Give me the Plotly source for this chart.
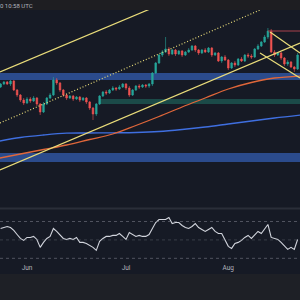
import pandas as pd
import plotly.graph_objects as go

# ---------------- data (price in thousands) ----------------
start_date = "2024-05-24"
n_days = 91
opens = [64.3, 64.6, 64.8, 64.6, 64.9, 64.0, 63.5, 63.0, 62.7, 63.1, 62.9, 63.2, 62.6, 61.8, 62.6, 63.2,
         63.5, 65.0, 64.7, 64.0, 63.5, 63.2, 63.4, 63.1, 63.3, 63.0, 63.2, 62.8, 62.2, 61.6, 62.6, 63.4,
         63.8, 63.7, 64.0, 64.2, 64.1, 64.3, 64.6, 64.2, 63.5, 64.0, 64.4, 64.3, 64.5, 64.4, 64.6, 65.7,
         66.7, 67.5, 67.8, 68.1, 67.6, 68.0, 67.6, 67.9, 67.5, 67.8, 68.0, 68.4, 68.0, 67.7, 68.0, 67.8,
         68.2, 67.5, 67.7, 66.9, 67.3, 67.0, 66.2, 66.7, 66.5, 67.1, 66.9, 67.5, 67.4, 67.3, 68.1, 68.4,
         68.8, 69.3, 69.9, 67.8, 67.5, 67.7, 67.2, 66.6, 66.8, 66.3, 66.1]
closes = [64.6, 64.8, 64.6, 64.9, 64.0, 63.5, 63.0, 62.7, 63.1, 62.9, 63.2, 62.6, 61.8, 62.6, 63.2, 63.5,
          65.0, 64.7, 64.0, 63.5, 63.2, 63.4, 63.1, 63.3, 63.0, 63.2, 62.8, 62.2, 61.6, 62.6, 63.4, 63.8,
          63.7, 64.0, 64.2, 64.1, 64.3, 64.6, 64.2, 63.5, 64.0, 64.4, 64.3, 64.5, 64.4, 64.6, 65.7, 66.7,
          67.5, 67.8, 68.1, 67.6, 68.0, 67.6, 67.9, 67.5, 67.8, 68.0, 68.4, 68.0, 67.7, 68.0, 67.8, 68.2,
          67.5, 67.7, 66.9, 67.3, 67.0, 66.2, 66.7, 66.5, 67.1, 66.9, 67.5, 67.4, 67.3, 68.1, 68.4, 68.8,
          69.3, 69.9, 67.8, 67.5, 67.7, 67.2, 66.6, 66.8, 66.3, 66.1, 67.5]
highs = [64.7, 64.9, 64.9, 65.0, 65.0, 64.1, 63.6, 63.2, 63.3, 63.3, 63.4, 63.3, 62.7, 62.8, 63.3, 63.7,
         65.3, 65.2, 64.8, 64.1, 63.6, 63.5, 63.5, 63.4, 63.4, 63.3, 63.3, 62.9, 62.3, 62.7, 63.5, 63.9,
         64.0, 64.1, 64.4, 64.3, 64.5, 64.7, 64.7, 64.4, 64.1, 64.5, 64.6, 64.6, 64.6, 64.7, 65.8, 66.8,
         67.6, 68.0, 69.3, 68.3, 68.1, 68.1, 68.0, 68.0, 67.9, 68.2, 68.5, 68.5, 68.1, 68.1, 68.2, 68.3,
         68.3, 67.8, 67.8, 67.4, 67.5, 67.1, 66.8, 66.9, 67.2, 67.3, 67.6, 67.7, 67.6, 68.2, 68.6, 68.9,
         69.5, 70.2, 70.1, 68.0, 67.8, 67.8, 67.3, 67.0, 66.9, 66.4, 67.7]
lows = [64.2, 64.5, 64.5, 64.4, 63.9, 63.3, 62.8, 62.5, 62.6, 62.7, 62.8, 62.4, 61.5, 61.7, 62.5, 63.1,
        63.4, 64.5, 63.8, 63.3, 63.0, 63.1, 62.9, 63.0, 62.8, 62.9, 62.6, 62.0, 61.0, 61.4, 62.5, 63.3,
        63.5, 63.6, 63.9, 63.9, 64.0, 64.2, 64.0, 63.3, 63.4, 63.9, 64.1, 64.2, 64.2, 64.2, 64.4, 65.6,
        66.6, 67.3, 67.7, 67.4, 67.5, 67.4, 67.5, 67.3, 67.4, 67.7, 67.9, 67.8, 67.5, 67.6, 67.7, 67.7,
        67.3, 67.4, 66.8, 66.7, 66.9, 66.0, 66.1, 66.3, 66.4, 66.8, 66.8, 67.2, 67.1, 67.2, 68.0, 68.3,
        68.7, 69.1, 67.7, 67.3, 67.4, 67.0, 66.4, 66.4, 66.2, 65.8, 66.0]
rsi = [62.4, 63.5, 64.6, 63.5, 60.3, 55.9, 51.6, 49.5, 52.7, 52.7, 53.8, 50.5, 41.9, 47.3, 51.6, 53.8,
       62.4, 59.2, 55.9, 51.6, 50.5, 51.6, 50.5, 52.7, 47.3, 47.3, 46.2, 44.1, 41.9, 38.6, 48.4, 51.6,
       53.8, 53.8, 54.9, 54.9, 57.0, 53.8, 50.5, 58.1, 55.9, 53.8, 54.9, 53.8, 53.8, 55.9, 62.4, 68.9,
       72.2, 72.2, 72.2, 74.3, 67.8, 68.9, 68.9, 65.7, 63.5, 62.4, 64.6, 67.8, 63.5, 61.4, 59.2, 61.4,
       63.5, 59.2, 57.0, 57.0, 50.5, 43.0, 40.8, 46.2, 47.3, 49.5, 52.7, 54.9, 51.6, 55.9, 59.2, 57.0,
       62.4, 66.8, 52.7, 51.6, 50.5, 47.3, 43.0, 39.7, 41.9, 39.7, 50.5]

ma_dates = ["2024-05-23", "2024-05-30", "2024-06-06", "2024-06-13", "2024-06-20", "2024-06-27",
            "2024-07-04", "2024-07-11", "2024-07-18", "2024-07-25", "2024-08-01", "2024-08-08",
            "2024-08-15", "2024-08-23"]
ma100 = [57.15, 57.6, 58.05, 58.5, 59.05, 59.6, 60.45, 61.35, 62.3, 63.2, 64.1, 64.75, 65.2, 65.4]
ma200 = [58.85, 59.25, 59.5, 59.68, 59.7, 59.72, 59.75, 59.85, 60.05, 60.3, 60.6, 60.9, 61.2, 61.5]

# drawn trendlines: (dates, prices)
upper_channel = (["2024-05-23 19:38", "2024-07-08 06:33"], [65.8, 72.1])
mid_channel = (["2024-05-23 19:38", "2024-08-10 14:33"], [60.7, 72.0])
lower_channel = (["2024-05-23 19:38", "2024-08-22 17:27"], [56.0, 68.7])
desc_upper = (["2024-08-13 15:16", "2024-08-22 17:27"], [69.8, 67.7])
desc_lower = (["2024-08-10 14:33", "2024-08-22 17:27"], [67.7, 65.2])
red_level = (["2024-08-13 00:44", "2024-08-23 12:00"], [69.9, 69.9])

upper_zone = (65.0, 65.7)
lower_zone = (56.8, 57.7)
teal_zone = ("2024-06-23 02:53", 62.6, 63.1)

month_ticks = ["2024-06-01", "2024-07-01", "2024-08-01"]
month_labels = ["Jun", "Jul", "Aug"]
rsi_levels = [70, 50, 30]

x_range = ["2024-05-23 19:38", "2024-08-22 17:27"]

# ---------------- figure ----------------
BG = "#161a25"
dates = pd.date_range(start_date, periods=n_days, freq="D")
fig = go.Figure()

fig.add_trace(go.Candlestick(
    x=dates, open=opens, high=highs, low=lows, close=closes,
    increasing=dict(line=dict(color="#26a69a", width=0.6), fillcolor="#26a69a"),
    decreasing=dict(line=dict(color="#ef5350", width=0.6), fillcolor="#ef5350"),
    whiskerwidth=0, xaxis="x", yaxis="y", showlegend=False, hoverinfo="skip"))

fig.add_trace(go.Scatter(x=ma_dates, y=ma200, mode="lines", line=dict(color="#3f6fe0", width=1.3, shape="spline"),
                         xaxis="x", yaxis="y", showlegend=False, hoverinfo="skip"))
fig.add_trace(go.Scatter(x=ma_dates, y=ma100, mode="lines", line=dict(color="#e0673a", width=1.3, shape="spline"),
                         xaxis="x", yaxis="y", showlegend=False, hoverinfo="skip"))

YEL = "#e9dc7a"
for ln, dash in [(upper_channel, "solid"), (mid_channel, "1px,2px"), (lower_channel, "solid"),
                 (desc_upper, "solid"), (desc_lower, "solid")]:
    fig.add_trace(go.Scatter(x=ln[0], y=ln[1], mode="lines", line=dict(color=YEL, width=1.2, dash=dash),
                             xaxis="x", yaxis="y", showlegend=False, hoverinfo="skip"))
fig.add_trace(go.Scatter(x=red_level[0], y=red_level[1], mode="lines", line=dict(color="#a8404c", width=1),
                         xaxis="x", yaxis="y", showlegend=False, hoverinfo="skip"))

fig.add_trace(go.Scatter(x=dates, y=rsi, mode="lines", line=dict(color="#d1d4dc", width=1.1),
                         xaxis="x2", yaxis="y2", showlegend=False, hoverinfo="skip"))

shapes = [
    dict(type="rect", xref="paper", yref="paper", x0=0, x1=1, y0=1 - 274 / 300, y1=1 - 10 / 300,
         fillcolor=BG, line=dict(width=0), layer="below"),
    dict(type="rect", xref="paper", yref="paper", x0=0, x1=1, y0=1 - 10 / 300, y1=1,
         fillcolor="#1e1e22", line=dict(width=0), layer="below"),
    dict(type="line", xref="paper", yref="paper", x0=0, x1=1, y0=1 - 208.5 / 300, y1=1 - 208.5 / 300,
         line=dict(color="#2a2e39", width=2)),
    dict(type="rect", xref="paper", yref="y", x0=0, x1=1, y0=upper_zone[0], y1=upper_zone[1],
         fillcolor="#2b4b8c", line=dict(width=0), layer="below"),
    dict(type="rect", xref="paper", yref="y", x0=0, x1=1, y0=lower_zone[0], y1=lower_zone[1],
         fillcolor="#2b4b8c", line=dict(width=0), layer="below"),
    dict(type="rect", xref="x", yref="y", x0=teal_zone[0], x1="2024-08-25", y0=teal_zone[1], y1=teal_zone[2],
         fillcolor="#1b4a48", line=dict(width=0), layer="below"),
]
for lv in rsi_levels:
    shapes.append(dict(type="line", xref="paper", yref="y2", x0=0, x1=1, y0=lv, y1=lv,
                       line=dict(color="rgba(120,123,134,0.75)" if lv != 50 else "rgba(120,123,134,0.45)",
                                 width=0.8, dash="dot")))

fig.update_layout(
    width=300, height=300, margin=dict(l=0, r=0, t=0, b=0),
    paper_bgcolor="#1e2026", plot_bgcolor=BG,
    shapes=shapes,
    boxgap=0.3,
    xaxis=dict(domain=[0, 1], range=x_range, type="date", anchor="y", visible=False,
               rangeslider=dict(visible=False)),
    yaxis=dict(domain=[1 - 208 / 300, 1 - 10 / 300], range=[52.2, 72.0], visible=False),
    xaxis2=dict(domain=[0, 1], range=x_range, type="date", anchor="y2", matches="x",
                tickvals=month_ticks, ticktext=month_labels, showgrid=False, zeroline=False,
                showline=False, ticks="", tickfont=dict(size=6.5, color="#b2b5be", family="Roboto")),
    yaxis2=dict(domain=[1 - 262 / 300, 1 - 209 / 300], range=[26, 83.6], visible=False),
    annotations=[dict(text="0 10:58 UTC", xref="paper", yref="paper", x=-0.008, y=1 - 5 / 300,
                      xanchor="left", yanchor="middle", showarrow=False,
                      font=dict(size=6, color="#b2b5be", family="Roboto"))],
)

fig.write_html("out.html", config={"displayModeBar": False})
